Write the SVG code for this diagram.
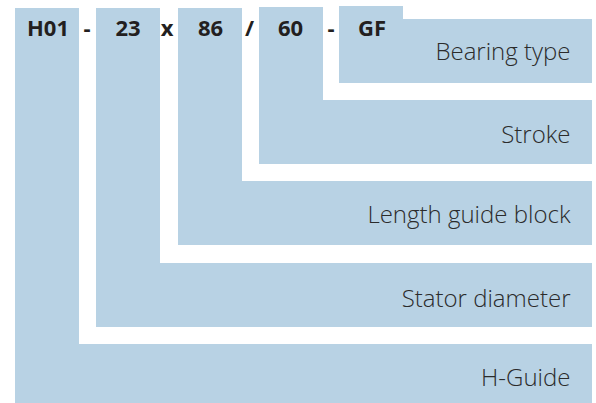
<svg xmlns="http://www.w3.org/2000/svg" width="596" height="403" viewBox="0 0 596 403">
<style>
.blk{fill:#b8d2e4}
.code{font-family:"Open Sans","Liberation Sans",sans-serif;font-weight:700;font-size:22px;fill:#231f20;text-anchor:middle}
.lbl{font-family:"Open Sans","Liberation Sans",sans-serif;font-weight:300;font-size:24px;fill:#2b2b2b;text-anchor:end}
</style>
<rect width="596" height="403" fill="#ffffff"/>
<g id="h-guide">
<path class="blk" d="M15,8 H79 V344 H592 V403 H15 Z"/>
<text class="code" x="48" y="36">H01</text>
<text class="lbl" x="570.5" y="386">H-Guide</text>
</g>
<g id="stator-diameter">
<path class="blk" d="M96,8 H160 V263 H592 V327 H96 Z"/>
<text class="code" x="128" y="36">23</text>
<text class="lbl" x="570.5" y="306.5">Stator diameter</text>
</g>
<g id="length-guide-block">
<path class="blk" d="M178,8 H242 V181 H592 V245 H178 Z"/>
<text class="code" x="210.5" y="36">86</text>
<text class="lbl" x="570.5" y="222.5">Length guide block</text>
</g>
<g id="stroke">
<path class="blk" d="M259,7 H323 V100 H592 V164 H259 Z"/>
<text class="code" x="290.5" y="36">60</text>
<text class="lbl" x="570.5" y="142.5">Stroke</text>
</g>
<g id="bearing-type">
<path class="blk" d="M339,6 H403 V19 H592 V83 H339 Z"/>
<text class="code" x="372" y="36">GF</text>
<text class="lbl" x="570.5" y="59.5">Bearing type</text>
</g>
<g id="separators">
<text class="code" x="87" y="36">-</text>
<text class="code" x="167" y="36">x</text>
<text class="code" x="249.5" y="36">/</text>
<text class="code" x="331" y="36">-</text>
</g>
</svg>
